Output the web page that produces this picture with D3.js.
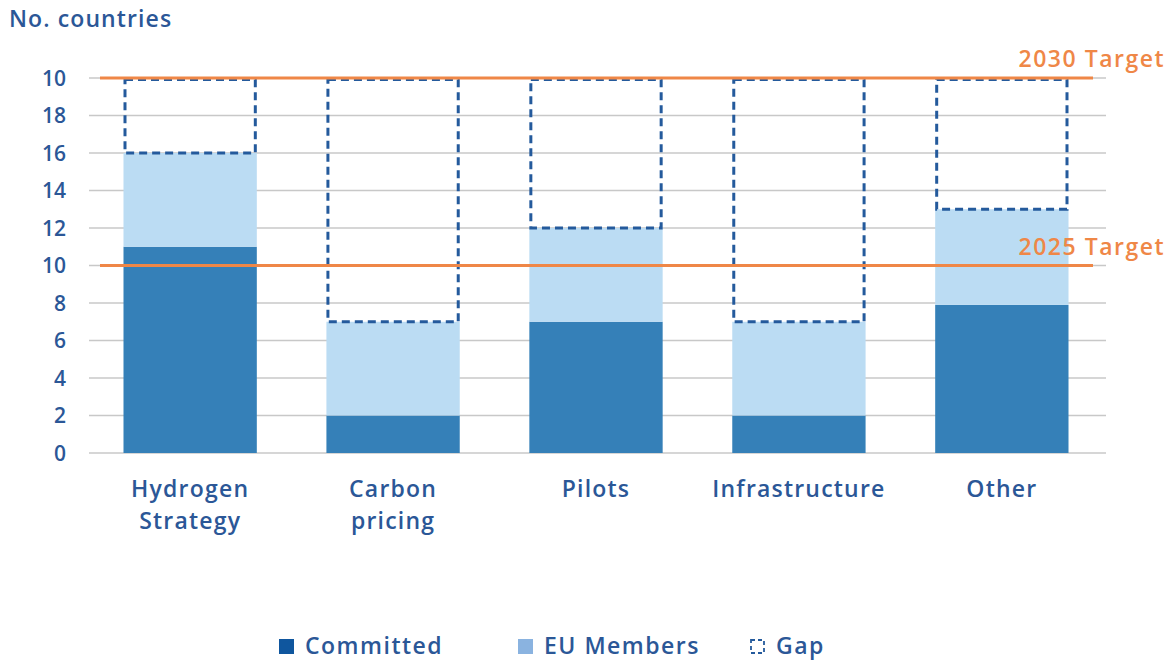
<!DOCTYPE html>
<html><head><meta charset="utf-8">
<script src="https://cdn.jsdelivr.net/npm/d3@7"></script>
<style>body{margin:0;background:#fff}svg{display:block}text{font-family:"Open Sans",sans-serif;font-weight:600}</style>
</head><body><svg id="c" width="1174" height="661"></svg>
<script>
const categories = [["Hydrogen","Strategy"],["Carbon","pricing"],["Pilots"],["Infrastructure"],["Other"]];
const committed = [11, 2, 7, 2, 7.9];
const euMembers = [5, 5, 5, 5, 5.1];
const targetTotal = 20;
const tickValues = [0,2,4,6,8,10,12,14,16,18,20];
const tickLabels = ["0","2","4","6","8","10","12","14","16","18","10"];
const targets = [{value:20,label:"2030 Target"},{value:10,label:"2025 Target"}];
const legendItems = ["Committed","EU Members","Gap"];

const svg = d3.select("#c");
const textColor = "#2b5797";
const x = d3.scaleBand().domain(d3.range(categories.length)).range([89, 1103]).paddingInner(0.343).paddingOuter(0.17);
const y = d3.scaleLinear().domain([0, 20]).range([453, 78]);

svg.append("g").selectAll("line").data(tickValues).join("line")
  .attr("x1", 89).attr("x2", 1106).attr("y1", d=>y(d)).attr("y2", d=>y(d))
  .attr("stroke", "#c8c8c8").attr("stroke-width", 1.5);

svg.append("g").selectAll("text").data(tickValues).join("text")
  .attr("x", 66).attr("y", d=>y(d)).attr("dy","0.36em").attr("text-anchor","end")
  .attr("font-size", 21).attr("fill", textColor).text((d,i)=>tickLabels[i]);

svg.append("text").attr("x", 9).attr("y", 27).attr("font-size", 23)
  .attr("letter-spacing", "1.1px").attr("fill", textColor).text("No. countries");

const bw = x.bandwidth();
const g = svg.append("g");
g.selectAll("rect.c").data(committed).join("rect").attr("class","c")
  .attr("x", (d,i)=>x(i)).attr("width", bw).attr("y", d=>y(d)).attr("height", d=>y(0)-y(d)).attr("fill","#3580b8");
g.selectAll("rect.e").data(euMembers).join("rect").attr("class","e")
  .attr("x", (d,i)=>x(i)).attr("width", bw).attr("y", (d,i)=>y(committed[i]+d)).attr("height", (d,i)=>y(committed[i])-y(committed[i]+d)).attr("fill","#bbdcf3");
g.selectAll("rect.g").data(committed).join("rect").attr("class","g")
  .attr("x", (d,i)=>x(i)+1.5).attr("width", bw-3).attr("y", y(targetTotal)+1.5)
  .attr("height", (d,i)=>y(d+euMembers[i])-y(targetTotal)-1.5)
  .attr("fill","none").attr("stroke","#245a9c").attr("stroke-width",3).attr("stroke-dasharray","8,5");

targets.forEach(t=>{
  svg.append("line").attr("x1",100).attr("x2",1093).attr("y1",y(t.value)).attr("y2",y(t.value))
    .attr("stroke","#ef8747").attr("stroke-width",3);
  svg.append("text").attr("x",1165).attr("y",y(t.value)-11).attr("text-anchor","end")
    .attr("font-size",23).attr("font-weight",500).attr("letter-spacing","1.5px").attr("fill","#ef8747").text(t.label);
});

svg.append("g").selectAll("text").data(categories).join("text")
  .attr("x",(d,i)=>x(i)+bw/2).attr("y",497).attr("text-anchor","middle")
  .attr("font-size",23).attr("letter-spacing","1.2px").attr("fill",textColor)
  .each(function(d){
    d3.select(this).selectAll("tspan").data(d).join("tspan")
      .attr("x", d3.select(this).attr("x")).attr("dy",(s,j)=>j?"1.4em":0).text(s=>s);
  });

const lg = svg.append("g");
const lx = [279, 518, 750];
lg.append("rect").attr("x",lx[0]).attr("y",639).attr("width",15).attr("height",15).attr("fill","#0f569e");
lg.append("rect").attr("x",lx[1]).attr("y",639).attr("width",15).attr("height",15).attr("fill","#8ab3e0");
lg.append("rect").attr("x",lx[2]+1).attr("y",640).attr("width",13).attr("height",13).attr("fill","none")
  .attr("stroke","#245a9c").attr("stroke-width",1.8).attr("stroke-dasharray","4,3");
lg.selectAll("text").data(legendItems).join("text")
  .attr("x",(d,i)=>lx[i]+26).attr("y",654).attr("font-size",23).attr("letter-spacing","1.5px").attr("fill",textColor).text(d=>d);
</script></body></html>
